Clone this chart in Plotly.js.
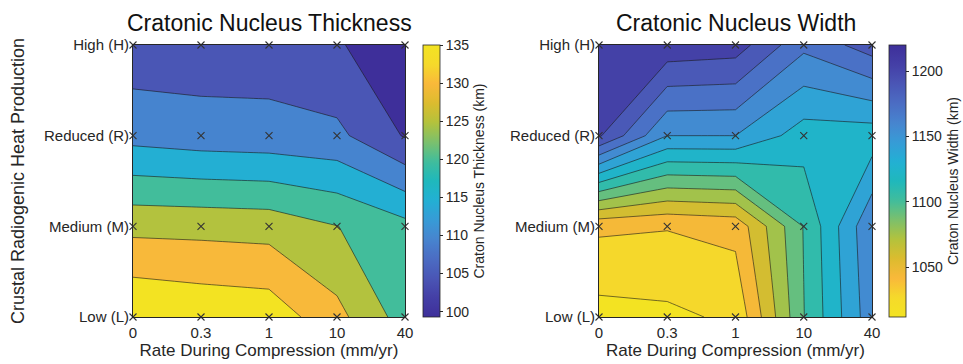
<!DOCTYPE html>
<html><head><meta charset="utf-8">
<script src="https://cdn.plot.ly/plotly-3.0.1.min.js"></script>
<style>html,body{margin:0;padding:0;background:#fff;}#chart{width:963px;height:364px;}</style>
</head><body><div id="chart"></div>
<script>
// ---- data ----
const rateLabels = ['0', '0.3', '1', '10', '40'];
const heatLabels = ['Low (L)', 'Medium (M)', 'Reduced (R)', 'High (H)'];

// Cratonic nucleus thickness (km), one array per heat-production row, columns follow rateLabels
const thicknessLow      = [135.0, 133.8, 133.1, 126.5, 117.8];
const thicknessMedium   = [123.6, 123.4, 123.0, 120.1, 116.5];
const thicknessReduced  = [108.3, 107.3, 106.9, 106.2, 99.6];
const thicknessHigh     = [101.9, 102.0, 102.2, 100.1, 99.3];

// Cratonic nucleus width (km)
const widthLow      = [1022, 1024.5, 1031, 1107.5, 1166];
const widthMedium   = [1047, 1045, 1049, 1108.8, 1170];
const widthReduced  = [1206, 1156, 1156, 1132, 1131];
const widthHigh     = [1220, 1215, 1212, 1176, 1196];

const thicknessTicks = [100, 105, 110, 115, 120, 125, 130, 135];
const widthTicks = [1050, 1100, 1150, 1200];

// ---- parula-like colormap, as it appears in the printed figure ----
const mapColors = ['#3e2f9a','#443fa6','#4a56b5','#4b6cc3','#4784cf','#379bd6','#22b0d4','#1fb8bc',
                   '#40bd9c','#7cc06c','#b3c23c','#dcbc2e','#f9b83a','#f5da2a','#f3e322'];
function hex2rgb(h){return [1,3,5].map(i=>parseInt(h.substr(i,2),16));}
function sampleMap(f){
  f = Math.max(0, Math.min(1, f));
  const n = mapColors.length - 1, p = f*n, i = Math.min(Math.floor(p), n-1), t = p - i;
  const a = hex2rgb(mapColors[i]), b = hex2rgb(mapColors[i+1]);
  return 'rgb(' + a.map((v,k)=>Math.round(v + (b[k]-v)*t)).join(',') + ')';
}
const NS = 64;
const parulaScale = Array.from({length: NS+1}, (_, i) => [i/NS, sampleMap(i/NS)]);
const parulaRev = Array.from({length: NS+1}, (_, i) => [i/NS, sampleMap(1 - i/NS)]);

// contour level settings and colour limits
const thickLevels = {start: 100, end: 130, size: 5};
const widthLevels = {start: 1028, end: 1204, size: 16};
const thickLim = [99.3, 135];
const widthLim = [1012, 1220];
// each width band takes the colour of its lower level (reversed map)
const nW = Math.round((widthLevels.end - widthLevels.start)/widthLevels.size) + 1;
const spanW = widthLevels.size * nW / (widthLim[1] - widthLim[0]);
const widthBandScale = Array.from({length: NS+1}, (_, i) => [i/NS, sampleMap(1 - spanW*i/NS)]);

// ---- layout geometry ----
const W = 963, H = 364;
const plotTop = 45, plotBot = 317;
const yDom = [1 - plotBot/H, 1 - plotTop/H];
const x1Dom = [133/W, 405/W];
const x2Dom = [599/W, 872/W];

const xIdx = rateLabels.map((_, i) => i);
const yIdx = heatLabels.map((_, i) => i);
const zThick = [thicknessLow, thicknessMedium, thicknessReduced, thicknessHigh];
const zWidth = [widthLow, widthMedium, widthReduced, widthHigh];

const mx = [], my = [];
yIdx.forEach(j => xIdx.forEach(i => { mx.push(i); my.push(j); }));

const FONT = 'Liberation Sans, Arial, Helvetica, sans-serif';
const TXT = '#262626';

function cbar(x, ticks, title){
  return {
    x: x, xanchor: 'left', xref: 'paper', y: yDom[0], yanchor: 'bottom', yref: 'paper',
    len: yDom[1]-yDom[0], lenmode: 'fraction', thickness: 17, thicknessmode: 'pixels',
    xpad: 0, ypad: 0, outlinewidth: 0.8, outlinecolor: TXT,
    tickvals: ticks, ticks: 'outside', ticklen: 3, tickcolor: TXT,
    tickfont: {family: FONT, size: 14, color: TXT},
    title: {text: title, side: 'right', font: {family: FONT, size: 14, color: TXT}}
  };
}

const traces = [
  {type: 'contour', x: xIdx, y: yIdx, z: zThick, xaxis: 'x', yaxis: 'y',
   colorscale: parulaScale, showscale: false, autocontour: false,
   contours: Object.assign({coloring: 'fill'}, thickLevels),
   line: {color: '#1a1a1a', width: 0.6, smoothing: 0}, hoverinfo: 'skip'},
  {type: 'contour', x: xIdx, y: yIdx, z: zWidth, xaxis: 'x2', yaxis: 'y2',
   colorscale: widthBandScale, showscale: false, autocontour: false,
   contours: Object.assign({coloring: 'fill'}, widthLevels),
   line: {color: '#1a1a1a', width: 0.6, smoothing: 0}, hoverinfo: 'skip'},
  {type: 'scatter', mode: 'markers', x: mx, y: my, xaxis: 'x', yaxis: 'y', cliponaxis: false,
   marker: {symbol: 'x-thin', size: 7, line: {color: '#333', width: 1.1}}, hoverinfo: 'skip'},
  {type: 'scatter', mode: 'markers', x: mx, y: my, xaxis: 'x2', yaxis: 'y2', cliponaxis: false,
   marker: {symbol: 'x-thin', size: 7, line: {color: '#333', width: 1.1}}, hoverinfo: 'skip'},
  // colorbar carriers
  {type: 'scatter', mode: 'markers', x: [xIdx[0]], y: [yIdx[0]], xaxis: 'x', yaxis: 'y',
   marker: {size: 1, opacity: 0, color: [thicknessLow[0]], colorscale: parulaScale,
            cmin: thickLim[0], cmax: thickLim[1], showscale: true,
            colorbar: cbar(423/W, thicknessTicks, 'Craton Nucleus Thickness (km)')},
   hoverinfo: 'skip'},
  {type: 'scatter', mode: 'markers', x: [xIdx[0]], y: [yIdx[0]], xaxis: 'x2', yaxis: 'y2',
   marker: {size: 1, opacity: 0, color: [widthLow[0]], colorscale: parulaRev,
            cmin: widthLim[0], cmax: widthLim[1], showscale: true,
            colorbar: cbar(889/W, widthTicks, 'Craton Nucleus Width (km)')},
   hoverinfo: 'skip'}
];

function xax(dom, anchor){
  return {domain: dom, anchor: anchor, range: [0, xIdx.length-1], tickvals: xIdx, ticktext: rateLabels,
    showline: true, mirror: true, linecolor: TXT, linewidth: 1, ticks: '', showgrid: false, zeroline: false,
    tickfont: {family: FONT, size: 15, color: TXT}, automargin: false, ticklabelstandoff: 2,
    title: {text: 'Rate During Compression (mm/yr)', font: {family: FONT, size: 17, color: TXT}, standoff: 1}};
}
function yax(anchor, title){
  const a = {domain: yDom, anchor: anchor, range: [0, yIdx.length-1], tickvals: yIdx, ticktext: heatLabels,
    showline: true, mirror: true, linecolor: TXT, linewidth: 1, ticks: '', showgrid: false, zeroline: false,
    tickfont: {family: FONT, size: 15, color: TXT}, automargin: false};
  if (title) a.title = {text: title, font: {family: FONT, size: 18, color: TXT}, standoff: 14};
  return a;
}

const layout = {
  width: W, height: H, margin: {l: 0, r: 0, t: 0, b: 0}, showlegend: false,
  paper_bgcolor: '#fff', plot_bgcolor: '#fff', font: {family: FONT, color: TXT},
  xaxis: xax(x1Dom, 'y'), yaxis: yax('x', 'Crustal Radiogenic Heat Production'),
  xaxis2: xax(x2Dom, 'y2'), yaxis2: yax('x2', null),
  annotations: [
    {text: 'Cratonic Nucleus Thickness', xref: 'paper', yref: 'paper', x: (x1Dom[0]+x1Dom[1])/2, y: 1 - 23/H,
     xanchor: 'center', yanchor: 'middle', showarrow: false, font: {family: FONT, size: 23, color: '#111'}},
    {text: 'Cratonic Nucleus Width', xref: 'paper', yref: 'paper', x: (x2Dom[0]+x2Dom[1])/2, y: 1 - 23/H,
     xanchor: 'center', yanchor: 'middle', showarrow: false, font: {family: FONT, size: 23, color: '#111'}}
  ]
};

Plotly.newPlot('chart', traces, layout, {staticPlot: true, displayModeBar: false});
</script></body></html>
